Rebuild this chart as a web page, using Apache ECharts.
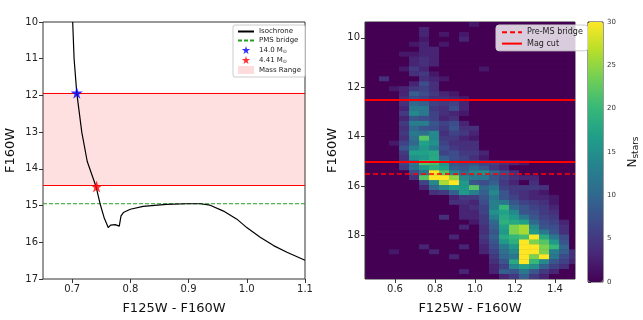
<!DOCTYPE html>
<html>
<head>
<meta charset="utf-8">
<script src="https://cdn.jsdelivr.net/npm/echarts@6/dist/echarts.min.js"></script>
<style>
  html, body { margin: 0; padding: 0; background: #fff; }
  #chart { width: 643px; height: 320px; }
</style>
</head>
<body>
<div id="chart"></div>
<script>
// left panel: isochrone (colour, magnitude)
const isoColor = [0.701, 0.7034, 0.708, 0.7166, 0.726, 0.741, 0.748, 0.755, 0.762, 0.766, 0.774, 0.781, 0.783, 0.784, 0.788, 0.80, 0.822, 0.862, 0.897, 0.92, 0.937, 0.96, 0.983, 1.0, 1.023, 1.046, 1.069, 1.1]
const isoMag = [10.0, 11.0, 11.93, 13.0, 13.8, 14.48, 14.95, 15.33, 15.6, 15.53, 15.52, 15.56, 15.58, 15.28, 15.19, 15.1, 15.02, 14.97, 14.95, 14.95, 14.99, 15.15, 15.37, 15.6, 15.86, 16.09, 16.27, 16.49]
const pmsBridgeMag = 14.95
const massRange = [11.93, 14.45] // 14.0 Msun .. 4.41 Msun
const starHigh = [0.708, 11.93]
const starLow = [0.742, 14.48]

// right panel: 2d histogram, bins 0.05 in colour x 0.2 in mag
const colorBins = [0.47, 0.52, 0.57, 0.62, 0.67, 0.72, 0.77, 0.82, 0.87, 0.92, 0.97, 1.02, 1.07, 1.12, 1.17, 1.22, 1.27, 1.32, 1.37, 1.42, 1.47]
const magBins = [9.36, 9.56, 9.76, 9.96, 10.16, 10.36, 10.56, 10.76, 10.96, 11.16, 11.36, 11.56, 11.76, 11.96, 12.16, 12.36, 12.56, 12.76, 12.96, 13.16, 13.36, 13.56, 13.76, 13.96, 14.16, 14.36, 14.56, 14.76, 14.96, 15.16, 15.36, 15.56, 15.76, 15.96, 16.16, 16.36, 16.56, 16.76, 16.96, 17.16, 17.36, 17.56, 17.76, 17.96, 18.16, 18.36, 18.56, 18.76, 18.96, 19.16, 19.36, 19.56]
const binW = 0.05
const binH = 0.2
const counts = [
  [0,0,0,0,0,0,0,0,0,0,2,0,0,0,0,0,0,0,0,0,0],
  [0,0,0,0,0,3,0,0,0,0,0,0,0,0,0,0,0,0,0,0,0],
  [0,0,0,0,0,3,0,2,0,2,0,0,0,0,0,0,0,0,0,0,0],
  [0,0,0,0,0,2,0,0,0,3,0,0,0,0,0,0,0,0,0,0,0],
  [0,0,0,0,2,3,0,2,0,0,0,0,0,0,0,0,0,0,0,0,0],
  [0,0,0,0,0,3,3,0,0,0,0,0,0,0,0,0,0,0,0,0,0],
  [0,0,0,2,2,3,3,0,0,0,0,0,0,0,0,0,0,0,0,0,0],
  [0,0,0,0,3,4,3,0,0,0,0,0,0,0,0,0,0,0,0,0,0],
  [0,0,0,0,3,4,3,0,0,0,0,0,0,0,0,0,0,0,0,0,0],
  [0,0,0,2,5,3,0,0,0,0,0,2,0,0,0,0,0,0,0,0,0],
  [0,0,0,0,4,5,2,0,0,0,0,0,0,0,0,0,0,0,0,0,0],
  [0,4,0,0,0,4,3,2,0,0,0,0,0,0,0,0,0,0,0,0,0],
  [0,0,0,0,3,7,4,0,0,0,0,0,0,0,0,0,0,0,0,0,0],
  [0,0,2,3,5,6,4,0,0,0,0,0,0,0,0,0,0,0,0,0,0],
  [0,0,0,3,9,7,5,3,2,0,0,0,0,0,0,0,0,0,0,0,0],
  [0,0,0,4,7,6,4,4,3,2,0,0,0,0,0,0,0,0,0,0,0],
  [0,0,0,4,10,9,6,5,6,3,0,0,0,0,0,0,0,0,0,0,0],
  [0,0,0,3,12,12,5,4,7,3,0,0,0,0,0,0,0,0,0,0,0],
  [0,0,0,5,14,12,6,4,3,2,0,0,0,0,0,0,0,0,0,0,0],
  [0,0,0,3,8,7,6,3,4,0,0,0,0,0,0,0,0,0,0,0,0],
  [0,0,0,5,13,13,8,6,7,3,0,0,0,0,0,0,0,0,0,0,0],
  [0,0,0,4,10,8,7,5,8,4,4,0,0,0,0,0,0,0,0,0,0],
  [0,0,0,5,12,11,14,4,6,5,3,0,0,0,0,0,0,0,0,0,0],
  [0,0,0,4,11,22,14,5,5,3,2,0,0,0,0,0,0,0,0,0,0],
  [0,0,2,6,10,17,15,6,4,4,4,0,0,0,0,0,0,0,0,0,0],
  [0,0,0,8,13,16,13,7,5,4,4,0,0,0,0,0,0,0,0,0,0],
  [0,0,0,5,17,17,18,6,7,5,5,3,0,0,0,0,0,0,0,0,0],
  [0,0,0,4,15,16,18,9,7,6,4,2,0,0,0,0,0,0,0,0,0],
  [0,0,0,6,12,22,21,16,8,7,8,6,6,4,3,2,0,0,0,0,0],
  [0,0,0,5,11,16,19,17,9,8,10,8,5,3,0,0,0,0,0,0,0],
  [0,0,0,0,7,12,30,22,14,10,14,15,10,7,4,0,0,0,0,0,0],
  [0,0,0,0,4,22,30,30,25,14,12,12,8,6,4,3,3,0,0,0,0],
  [0,0,0,0,0,6,14,26,30,16,8,7,9,5,3,0,4,0,0,0,0],
  [0,0,0,0,0,3,10,14,17,16,22,10,12,6,5,5,5,4,0,0,0],
  [0,0,0,0,0,0,4,5,9,16,13,9,14,8,5,4,3,2,0,0,0],
  [0,0,0,0,0,0,0,0,3,5,5,8,12,8,6,4,3,3,2,0,0],
  [0,0,0,0,0,0,0,0,4,4,3,7,13,12,8,6,5,4,2,0,0],
  [0,0,0,0,0,0,0,0,0,3,4,6,13,20,10,8,6,5,3,0,0],
  [0,0,0,0,0,0,0,0,0,3,3,6,15,17,14,8,7,5,4,0,0],
  [0,0,0,0,0,0,0,4,0,3,3,5,13,18,16,12,8,6,5,0,0],
  [0,0,0,0,0,0,0,0,0,0,2,5,10,19,18,17,10,7,6,3,0],
  [0,0,0,0,0,0,0,0,0,3,0,4,9,17,24,26,14,8,7,4,0],
  [0,0,0,0,0,0,0,0,0,0,0,4,8,16,24,26,16,12,8,4,0],
  [0,0,0,0,0,0,0,0,3,0,0,5,9,18,20,21,30,18,12,7,0],
  [0,0,0,0,0,0,0,0,0,0,0,4,8,16,19,30,24,22,16,8,0],
  [0,0,0,0,0,3,0,0,0,3,0,3,7,12,16,30,30,24,20,10,0],
  [0,0,2,0,0,0,3,0,0,0,0,3,6,11,14,30,30,24,13,9,4],
  [0,0,0,0,0,0,0,0,3,0,0,0,5,10,12,30,24,30,12,7,4],
  [0,0,0,0,0,0,0,0,0,0,0,0,4,8,18,30,20,14,8,6,3],
  [0,0,0,0,0,0,0,0,0,0,0,0,3,6,14,17,15,9,6,4,0],
  [0,0,0,0,0,0,0,0,0,3,0,0,3,9,8,12,8,5,3,0,0],
  [0,0,0,0,0,0,0,0,0,0,0,0,0,3,5,9,5,3,0,0,0],
]
const preMsBridge = 15.5
const magCuts = [12.5, 15.0]

const leftColorTicks = [0.7, 0.8, 0.9, 1.0, 1.1]
const rightColorTicks = [0.6, 0.8, 1.0, 1.2, 1.4]
const rightMagTicks = [10, 12, 14, 16, 18]

const viridis = ['#440154', '#482878', '#3e4989', '#31688e', '#26828e', '#1f9e89', '#35b779', '#6ece58', '#b5de2b', '#fde725']
const starPath = 'path://M50,0 L61,35 L98,35 L68,57 L79,91 L50,70 L21,91 L32,57 L2,35 L39,35 Z'
const font = 'DejaVu Sans'

const histData = []
magBins.forEach((m, i) => {
  colorBins.forEach((c, j) => {
    histData.push([c, m, counts[i][j]])
  })
})

const myChart = echarts.init(document.getElementById('chart'))

const tickLabel = { fontSize: 10, color: '#222', fontFamily: font }
const axisName = { fontSize: 13, color: '#111', fontFamily: font }
// 圖例只畫線，不畫點
const noDot = { opacity: 0 }

const option = {
  animation: false,
  textStyle: { fontFamily: font },
  grid: [
    { left: 43, top: 22, width: 262, height: 260, show: true, borderColor: '#333', borderWidth: 1, backgroundColor: '#fff' },
    { left: 365, top: 22, width: 210, height: 260, show: true, borderColor: '#333', borderWidth: 1, backgroundColor: '#440154' },
    { left: 588, top: 22, width: 15, height: 260, show: true, borderColor: '#333', borderWidth: 1 },
  ],
  xAxis: [
    {
      gridIndex: 0, type: 'value', min: 0.65, max: 1.1,
      axisLine: { show: false }, splitLine: { show: false },
      axisTick: { show: true, length: 4, customValues: leftColorTicks, lineStyle: { color: '#333' } },
      axisLabel: { ...tickLabel, margin: 5, customValues: leftColorTicks, formatter: (v) => v.toFixed(1) },
      name: 'F125W - F160W', nameLocation: 'middle', nameGap: 23, nameTextStyle: axisName,
    },
    {
      gridIndex: 1, type: 'value', min: 0.45, max: 1.5,
      axisLine: { show: false }, splitLine: { show: false },
      axisTick: { show: true, length: 4, customValues: rightColorTicks, lineStyle: { color: '#333' } },
      axisLabel: { ...tickLabel, margin: 5, customValues: rightColorTicks, formatter: (v) => v.toFixed(1) },
      name: 'F125W - F160W', nameLocation: 'middle', nameGap: 23, nameTextStyle: axisName,
    },
    { gridIndex: 2, type: 'value', min: 0, max: 1, show: false },
  ],
  yAxis: [
    {
      gridIndex: 0, type: 'value', min: 10, max: 17, interval: 1, inverse: true,
      axisLine: { show: false }, splitLine: { show: false },
      axisTick: { show: true, length: 4, lineStyle: { color: '#333' } },
      axisLabel: { ...tickLabel, margin: 5 },
      name: 'F160W', nameLocation: 'middle', nameGap: 26, nameTextStyle: axisName,
    },
    {
      gridIndex: 1, type: 'value', min: 9.36, max: 19.76, inverse: true,
      axisLine: { show: false }, splitLine: { show: false },
      axisTick: { show: true, length: 4, customValues: rightMagTicks, lineStyle: { color: '#333' } },
      axisLabel: { ...tickLabel, margin: 5, customValues: rightMagTicks },
      name: 'F160W', nameLocation: 'middle', nameGap: 26, nameTextStyle: axisName,
    },
    {
      gridIndex: 2, type: 'value', min: 0, max: 30, interval: 5, position: 'right',
      axisLine: { show: false }, splitLine: { show: false },
      axisTick: { show: true, length: 3, lineStyle: { color: '#333' } },
      axisLabel: { fontSize: 7, color: '#333', margin: 4, fontFamily: font },
      name: 'N{s|stars}', nameLocation: 'middle', nameGap: 22, nameRotate: 90,
      nameTextStyle: { fontSize: 12, color: '#111', fontFamily: font, rich: { s: { fontSize: 9, padding: [6, 0, 0, 0], fontFamily: font } } },
    },
  ],
  visualMap: {
    type: 'continuous', min: 0, max: 30, dimension: 2, seriesIndex: 5,
    left: 588, top: 22, itemWidth: 15, itemHeight: 260, padding: 0,
    calculable: false, hoverLink: false, showLabel: false,
    inRange: { color: viridis },
  },
  legend: [
    {
      left: 233, top: 25, orient: 'vertical', itemGap: 2, itemWidth: 16, itemHeight: 8,
      padding: [3, 4, 3, 4], backgroundColor: '#fff', borderColor: '#ccc', borderWidth: 1, borderRadius: 2,
      textStyle: { fontSize: 7, color: '#222', rich: { s: { fontSize: 5, padding: [3, 0, 0, 0] } } },
      formatter: (name) => name.replace('Msun', 'M{s|⊙}'),
      data: [
        { name: 'Isochrone', itemStyle: noDot },
        { name: 'PMS bridge', itemStyle: noDot },
        { name: '14.0 Msun', icon: starPath, itemStyle: { color: '#0000ff' } },
        { name: '4.41 Msun', icon: starPath, itemStyle: { color: '#ff0000' } },
        { name: 'Mass Range', icon: 'rect', itemStyle: { color: '#ffdcdc' } },
      ],
    },
    {
      left: 496, top: 25, orient: 'vertical', itemGap: 3, itemWidth: 20, itemHeight: 8,
      padding: [3, 5, 3, 5], backgroundColor: 'rgba(255,255,255,0.8)', borderColor: '#ccc', borderWidth: 1, borderRadius: 3,
      textStyle: { fontSize: 8, color: '#222' },
      data: [
        { name: 'Pre-MS bridge', itemStyle: noDot },
        { name: 'Mag cut', itemStyle: noDot },
      ],
    },
  ],
  series: [
    {
      name: 'Mass Range', type: 'line', xAxisIndex: 0, yAxisIndex: 0, data: [],
      lineStyle: { color: '#ff0000' }, itemStyle: { color: '#ffdcdc' },
      markArea: {
        silent: true,
        itemStyle: { color: 'rgba(255,0,0,0.12)' },
        data: [[{ yAxis: massRange[0] }, { yAxis: massRange[1] }]],
      },
      markLine: {
        silent: true, symbol: 'none', label: { show: false },
        lineStyle: { color: '#ff0000', width: 1, type: 'solid' },
        data: massRange.map((m) => ({ yAxis: m })),
      },
    },
    {
      name: 'PMS bridge', type: 'line', xAxisIndex: 0, yAxisIndex: 0, showSymbol: false, symbol: 'none',
      data: [[0.65, pmsBridgeMag], [1.1, pmsBridgeMag]],
      lineStyle: { color: '#22a022', width: 1, type: [4, 2] }, itemStyle: { color: '#22a022' },
    },
    {
      name: 'Isochrone', type: 'line', xAxisIndex: 0, yAxisIndex: 0, showSymbol: false, symbol: 'none',
      data: isoColor.map((c, i) => [c, isoMag[i]]),
      lineStyle: { color: '#000', width: 1.2 }, itemStyle: { color: '#000' },
    },
    {
      name: '14.0 Msun', type: 'scatter', xAxisIndex: 0, yAxisIndex: 0, symbol: starPath, symbolSize: 12,
      data: [starHigh], itemStyle: { color: '#0000ff' }, z: 5,
    },
    {
      name: '4.41 Msun', type: 'scatter', xAxisIndex: 0, yAxisIndex: 0, symbol: starPath, symbolSize: 12,
      data: [starLow], itemStyle: { color: '#ff0000' }, z: 5,
    },
    {
      name: 'hist', type: 'custom', xAxisIndex: 1, yAxisIndex: 1,
      encode: { x: 0, y: 1 },
      data: histData,
      renderItem: (params, api) => {
        const c = api.value(0)
        const m = api.value(1)
        const p0 = api.coord([c, m])
        const p1 = api.coord([c + binW, m + binH])
        const shape = echarts.graphic.clipRectByRect(
          { x: p0[0], y: p0[1], width: p1[0] - p0[0] + 0.5, height: p1[1] - p0[1] + 0.5 },
          { x: params.coordSys.x, y: params.coordSys.y, width: params.coordSys.width, height: params.coordSys.height },
        )
        if (!shape) return
        return { type: 'rect', shape: shape, style: { fill: api.visual('color') } }
      },
      silent: true,
    },
    {
      name: 'Pre-MS bridge', type: 'line', xAxisIndex: 1, yAxisIndex: 1, data: [], z: 6,
      lineStyle: { color: '#ff0000', width: 1.5, type: [5, 3] }, itemStyle: { color: '#ff0000' },
      markLine: {
        silent: true, symbol: 'none', label: { show: false },
        lineStyle: { color: '#ff0000', width: 1.5, type: [5, 3] },
        data: [{ yAxis: preMsBridge }],
      },
    },
    {
      name: 'Mag cut', type: 'line', xAxisIndex: 1, yAxisIndex: 1, data: [], z: 6,
      lineStyle: { color: '#ff0000', width: 2 }, itemStyle: { color: '#ff0000' },
      markLine: {
        silent: true, symbol: 'none', label: { show: false },
        lineStyle: { color: '#ff0000', width: 2, type: 'solid' },
        data: magCuts.map((m) => ({ yAxis: m })),
      },
    },
  ],
}

myChart.setOption(option)
</script>
</body>
</html>
